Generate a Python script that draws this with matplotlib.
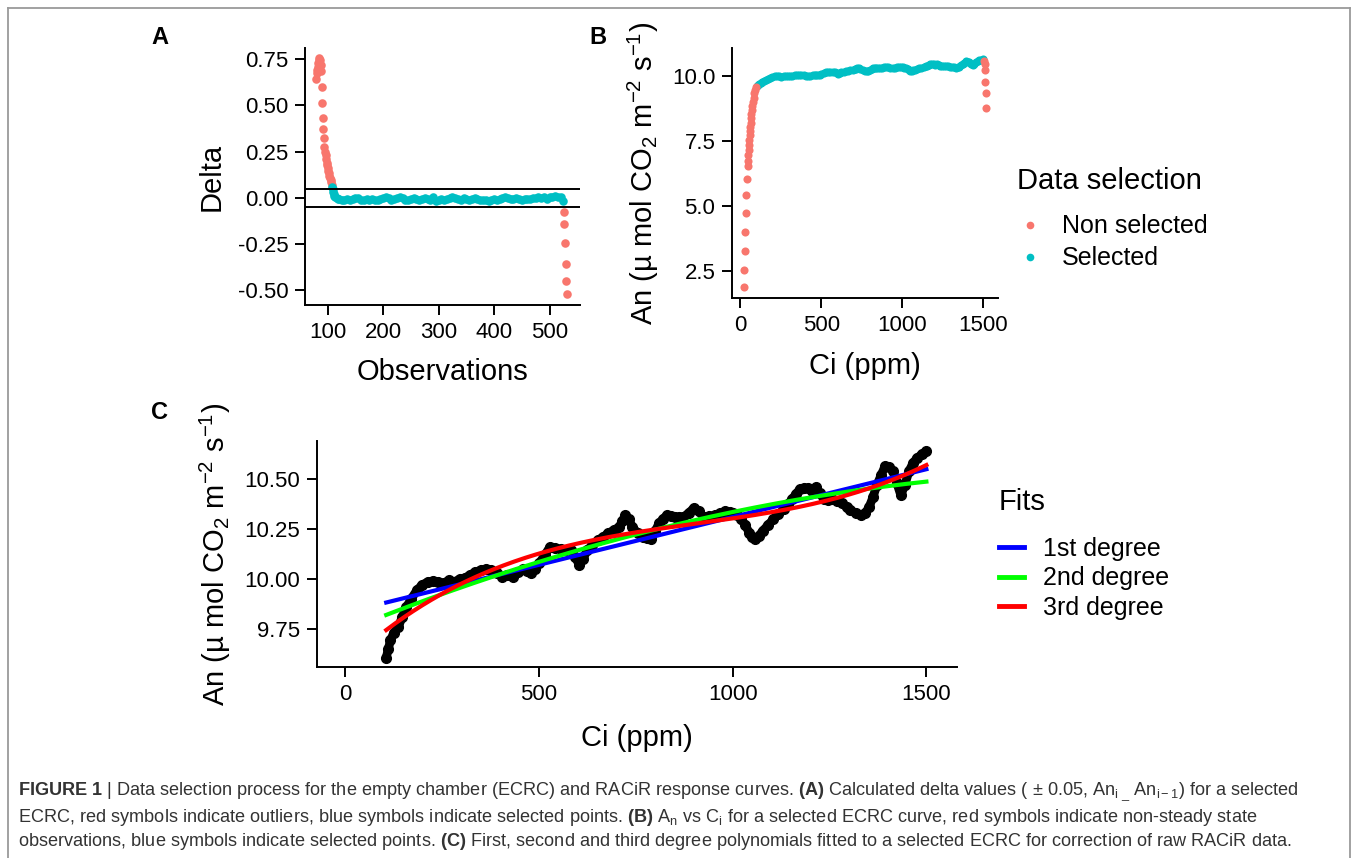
import numpy as np
import matplotlib
matplotlib.use('Agg')
import matplotlib.pyplot as plt
from matplotlib.lines import Line2D
from matplotlib.ticker import FormatStrFormatter

plt.rcParams['font.family'] = ['Liberation Sans', 'DejaVu Sans']
plt.rcParams['mathtext.fontset'] = 'custom'
plt.rcParams['mathtext.rm'] = 'Liberation Sans'
plt.rcParams['mathtext.it'] = 'Liberation Sans:italic'
plt.rcParams['mathtext.bf'] = 'Liberation Sans:bold'
plt.rcParams['mathtext.default'] = 'regular'
plt.rcParams['axes.unicode_minus'] = False

# ---------------- data ----------------
# Panel A: delta values per observation
obs_early = [79, 80, 81, 82, 83, 84, 85, 86, 87, 88, 89, 90, 91, 92, 93, 94, 95, 96,
             97, 98, 99, 100, 101, 102, 103, 104, 105, 106, 107]
delta_early = [0.643, 0.675, 0.69, 0.71, 0.729, 0.745, 0.756, 0.745, 0.72, 0.688, 0.60,
               0.512, 0.43, 0.372, 0.322, 0.276, 0.25, 0.231, 0.21, 0.19, 0.178, 0.16,
               0.145, 0.134, 0.12, 0.108, 0.098, 0.085, 0.071]
obs_sel = [108, 109, 110, 111, 112, 114, 116, 118, 120] + list(range(125, 526, 5))
delta_sel = [0.06, 0.045, 0.03, 0.02, 0.012, 0.005, 0.0, -0.005, -0.008,
             -0.010, -0.012, -0.008, -0.010, -0.006, 0.000, -0.004, -0.010, -0.012, -0.008,
             -0.010, -0.006, -0.010, -0.012, -0.006, -0.002, 0.002, -0.004, -0.010, -0.006,
             -0.002, 0.002, -0.004, -0.010, -0.012, -0.008, -0.004, -0.008, -0.012, -0.006,
             -0.002, -0.006, -0.010, 0.002, -0.018, -0.012, -0.008, -0.010, -0.006, -0.002,
             0.004, 0.000, -0.006, -0.010, -0.004, -0.008, -0.012, -0.006, -0.002, -0.006,
             -0.010, -0.012, -0.014, -0.016, -0.010, -0.006, -0.010, -0.006, -0.002, 0.002,
             -0.004, -0.008, -0.006, -0.002, -0.006, -0.010, -0.008, -0.006, -0.008, -0.004,
             -0.002, 0.002, -0.002, 0.004, -0.006, 0.006, 0.002, 0.008, 0.004, 0.002, -0.015]
obs_late = [526, 527, 528, 529, 530, 531]
delta_late = [-0.076, -0.144, -0.247, -0.361, -0.45, -0.522]
delta_limits = [-0.05, 0.05]

# Panel B: non-selected (non steady-state) points
ci_early = [20.5, 24.7, 26.7, 28.8, 32.9, 37.0, 41.1, 45.2, 47.5, 49.3, 51.5, 53.4, 55.5,
            57.5, 59.5, 61.7, 63.8, 65.8, 69.0, 71.9, 75.0, 78.1, 82.0, 86.3, 91.0, 96.6]
an_early = [1.88, 2.55, 3.27, 4.00, 4.75, 5.42, 6.02, 6.53, 6.75, 6.96, 7.15, 7.34, 7.53,
            7.73, 7.89, 8.05, 8.21, 8.37, 8.53, 8.69, 8.85, 9.01, 9.17, 9.33, 9.47, 9.59]
ci_late = [1505, 1507, 1509, 1511, 1513, 1514]
an_late = [10.58, 10.45, 10.23, 9.78, 9.36, 8.79]

# Selected points (panels B and C)
ci_sel = [105.7, 111, 116.7, 125, 137, 147, 158, 170, 185, 198, 213, 226, 240, 254, 268,
          281, 295, 308, 322, 336, 350, 363, 377, 391, 405, 418, 432, 446, 460, 470, 480,
          490, 501, 515, 528, 542, 556, 570, 583, 594, 604, 614, 624, 638, 652, 665, 679,
          693, 707, 715, 723, 732, 741, 755, 769, 779, 789, 800, 810, 820, 830, 840, 851,
          861, 872, 886, 899, 912, 926, 940, 954, 967, 981, 992, 1002, 1012, 1022, 1033,
          1043, 1050, 1057, 1067, 1077, 1091, 1105, 1118, 1132, 1143, 1153, 1163, 1173,
          1184, 1194, 1204, 1215, 1225, 1235, 1246, 1256, 1270, 1283, 1294, 1304, 1318,
          1331, 1342, 1352, 1362, 1372, 1383, 1393, 1404, 1414, 1424, 1434, 1444, 1455,
          1465, 1475, 1488, 1500]
an_sel = [9.606, 9.65, 9.693, 9.73, 9.76, 9.81, 9.86, 9.90, 9.944, 9.97, 9.986, 9.99,
          9.986, 9.98, 9.994, 9.985, 10.0, 10.005, 10.02, 10.035, 10.045, 10.05, 10.045,
          10.03, 10.01, 10.02, 10.01, 10.035, 10.05, 10.04, 10.03, 10.05, 10.08, 10.12,
          10.16, 10.155, 10.15, 10.145, 10.145, 10.11, 10.07, 10.10, 10.145, 10.17, 10.195,
          10.21, 10.23, 10.245, 10.26, 10.29, 10.32, 10.30, 10.26, 10.23, 10.21, 10.205,
          10.20, 10.24, 10.28, 10.30, 10.32, 10.315, 10.31, 10.31, 10.31, 10.33, 10.355,
          10.34, 10.31, 10.315, 10.32, 10.33, 10.34, 10.335, 10.33, 10.32, 10.30, 10.27,
          10.23, 10.21, 10.20, 10.215, 10.24, 10.27, 10.30, 10.325, 10.35, 10.375, 10.40,
          10.425, 10.45, 10.455, 10.455, 10.44, 10.46, 10.43, 10.40, 10.395, 10.40, 10.39,
          10.38, 10.36, 10.345, 10.33, 10.32, 10.33, 10.36, 10.41, 10.47, 10.52, 10.565,
          10.56, 10.54, 10.48, 10.42, 10.47, 10.54, 10.58, 10.605, 10.625, 10.64]

fit_degrees = [1, 2, 3]
fit_labels = ['1st degree', '2nd degree', '3rd degree']
fit_colors = ['#0000FF', '#00FF00', '#FF0000']

RED = '#F8766D'
CYAN = '#00BFC4'

# ---------------- figure ----------------
W, H = 1355, 858
fig = plt.figure(figsize=(W / 100, H / 100), dpi=100)


def rect(l, t, r, b):
    return [l / W, 1 - b / H, (r - l) / W, (b - t) / H]


def style(ax):
    for s in ['top', 'right']:
        ax.spines[s].set_visible(False)
    for s in ['left', 'bottom']:
        ax.spines[s].set_linewidth(1.4)
        ax.spines[s].set_color('black')
    ax.tick_params(length=7, width=1.4, labelsize=16, pad=5, colors='black')


def legend_gap(leg, px):
    # extra space between legend title and entries
    try:
        leg._legend_box.sep = px
    except Exception:
        pass


TITLE = 21
LABEL_AN = 'An (µ mol CO$_2$ m$^{-2}$ s$^{-1}$)'

# Panel A
axA = fig.add_axes(rect(305, 48, 580, 305))
style(axA)
axA.scatter(obs_early, delta_early, s=38, color=RED, linewidths=0, zorder=3)
axA.scatter(obs_late, delta_late, s=38, color=RED, linewidths=0, zorder=3)
axA.scatter(obs_sel, delta_sel, s=38, color=CYAN, linewidths=0, zorder=3)
for v in delta_limits:
    axA.axhline(v, color='black', lw=1.4, zorder=4)
axA.set_xlim(59, 555)
axA.set_ylim(-0.581, 0.811)
axA.set_xticks([100, 200, 300, 400, 500])
axA.set_yticks([-0.5, -0.25, 0, 0.25, 0.5, 0.75])
axA.yaxis.set_major_formatter(FormatStrFormatter('%.2f'))
axA.set_xlabel('Observations', fontsize=TITLE, labelpad=11)
axA.set_ylabel('Delta', fontsize=TITLE, labelpad=9)

# Panel B
axB = fig.add_axes(rect(732, 48, 998, 298))
style(axB)
axB.scatter(ci_sel, an_sel, s=34, color=CYAN, linewidths=0, zorder=3)
axB.scatter(ci_early, an_early, s=34, color=RED, linewidths=0, zorder=3)
axB.scatter(ci_late, an_late, s=34, color=RED, linewidths=0, zorder=3)
axB.set_xlim(-51, 1590)
axB.set_ylim(1.46, 11.08)
axB.set_xticks([0, 500, 1000, 1500])
axB.set_yticks([2.5, 5.0, 7.5, 10.0])
axB.yaxis.set_major_formatter(FormatStrFormatter('%.1f'))
axB.set_xlabel('Ci (ppm)', fontsize=TITLE, labelpad=12)
axB.set_ylabel(LABEL_AN, fontsize=TITLE, labelpad=8)
hB = [Line2D([], [], ls='', marker='o', ms=5.5, color=RED, mew=0),
      Line2D([], [], ls='', marker='o', ms=5.5, color=CYAN, mew=0)]
legB = axB.legend(hB, ['Non selected', 'Selected'], title='Data selection',
                  loc='upper left', bbox_to_anchor=(1017 / W, 1 - 167 / H),
                  bbox_transform=fig.transFigure, frameon=False, fontsize=18,
                  title_fontsize=21, alignment='left', borderpad=0, borderaxespad=0,
                  handlelength=1.0, handletextpad=0.8, labelspacing=0.32)
legend_gap(legB, 14)

# Panel C
axC = fig.add_axes(rect(317, 441, 957, 667))
style(axC)
ci_arr = np.array(ci_sel)
an_arr = np.array(an_sel)
axC.plot(ci_arr, an_arr, color='black', lw=6.3, marker='o', ms=7,
         solid_capstyle='round', solid_joinstyle='round', zorder=2)
xs = np.linspace(ci_arr.min(), ci_arr.max(), 300)
hC = []
for deg, lab, col in zip(fit_degrees, fit_labels, fit_colors):
    coef = np.polyfit(ci_arr, an_arr, deg)
    axC.plot(xs, np.polyval(coef, xs), color=col, lw=3, zorder=3)
    hC.append(Line2D([], [], color=col, lw=3.5))
axC.set_xlim(-73, 1579)
axC.set_ylim(9.559, 10.692)
axC.set_xticks([0, 500, 1000, 1500])
axC.set_yticks([9.75, 10.0, 10.25, 10.5])
axC.yaxis.set_major_formatter(FormatStrFormatter('%.2f'))
axC.set_xlabel('Ci (ppm)', fontsize=TITLE, labelpad=14)
axC.set_ylabel(LABEL_AN, fontsize=TITLE, labelpad=8)
legC = axC.legend(hC, fit_labels, title='Fits',
                  loc='upper left', bbox_to_anchor=(999 / W, 1 - 488 / H),
                  bbox_transform=fig.transFigure, frameon=False, fontsize=18,
                  title_fontsize=21, alignment='left', borderpad=0, borderaxespad=0,
                  handlelength=1.0, handletextpad=0.75, labelspacing=0.22)
legend_gap(legC, 15)

# Panel letters
for lab, x, y in [('A', 160, 38), ('B', 598, 38), ('C', 160, 413)]:
    fig.text(x / W, 1 - y / H, lab, fontsize=17, fontweight='bold',
             ha='center', va='center')

# Frame
fcol = '#9a9a9a'
fig.add_artist(Line2D([8 / W, 8 / W], [0, 1 - 8 / H], color=fcol, lw=1.3,
                      transform=fig.transFigure))
fig.add_artist(Line2D([8 / W, 1350 / W], [1 - 8 / H, 1 - 8 / H], color=fcol, lw=1.3,
                      transform=fig.transFigure))
fig.add_artist(Line2D([1350 / W, 1350 / W], [0, 1 - 8 / H], color=fcol, lw=1.3,
                      transform=fig.transFigure))

# Caption
cap = [r'$\mathbf{FIGURE\ 1}$ | Data selection process for the empty chamber (ECRC) and RACiR response curves. '
       r'$\mathbf{(A)}$ Calculated delta values ( ± 0.05, An$_{i\ \_}$ An$_{i-1}$) for a selected',
       r'ECRC, red symbols indicate outliers, blue symbols indicate selected points. '
       r'$\mathbf{(B)}$ A$_n$ vs C$_i$ for a selected ECRC curve, red symbols indicate non-steady state',
       r'observations, blue symbols indicate selected points. $\mathbf{(C)}$ First, second and third '
       r'degree polynomials fitted to a selected ECRC for correction of raw RACiR data.']
cap_y = [792, 817, 842]
texts = [fig.text(18 / W, 1 - y / H, s, fontsize=12.5, color='#333333', va='center', ha='left')
         for s, y in zip(cap, cap_y)]
fig.canvas.draw()
r = fig.canvas.get_renderer()
wmax = texts[2].get_window_extent(r).width
scale = (1295 - 18) / wmax
for t in texts:
    t.set_fontsize(12.5 * scale)

fig.savefig('out.png', dpi=100)
